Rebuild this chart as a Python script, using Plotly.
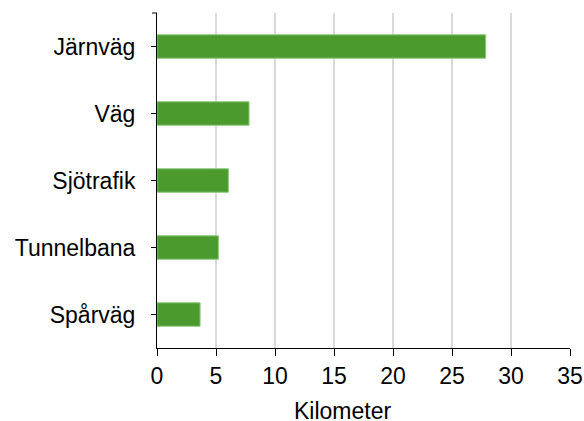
import plotly.graph_objects as go

categories = ["Järnväg", "Väg", "Sjötrafik", "Tunnelbana", "Spårväg"]
values = [27.85, 7.8, 6.05, 5.2, 3.65]
x_ticks = [0, 5, 10, 15, 20, 25, 30, 35]
x_title = "Kilometer"

fig = go.Figure(go.Bar(
    x=values, y=categories, orientation="h",
    width=0.35,
    marker=dict(color="#4a9a2e", line=dict(color="#8cc97a", width=1)),
))

FONT = "Liberation Sans, Arial, sans-serif"
fig.update_layout(
    width=584, height=421,
    margin=dict(l=157, r=14, t=13, b=73),
    plot_bgcolor="white", paper_bgcolor="white",
    showlegend=False,
    font=dict(family=FONT, size=23, color="black"),
    xaxis=dict(
        range=[0, 35], tickvals=x_ticks, ticktext=[str(t) for t in x_ticks],
        showgrid=True, gridcolor="#d9d9d9", gridwidth=1.5,
        showline=True, linecolor="black", linewidth=1,
        ticks="outside", ticklen=7, tickcolor="black",
        zeroline=False, tickfont=dict(size=23, family=FONT),
        automargin=False,
    ),
    yaxis=dict(
        categoryorder="array", categoryarray=categories[::-1],
        range=[-0.5, 4.5],
        showline=True, linecolor="black", linewidth=1,
        ticks="outside", ticklen=5, tickcolor="black",
        ticklabelstandoff=11,
        showgrid=False, tickfont=dict(size=23, family=FONT),
        automargin=False,
    ),
    annotations=[dict(
        text=x_title, xref="paper", yref="paper", x=0.448, y=0,
        yshift=-48, xanchor="center", yanchor="top", showarrow=False,
        font=dict(size=23, family=FONT),
    )],
)
fig.add_shape(type="line", xref="paper", yref="paper", xsizemode="pixel",
              xanchor=0, x0=-5, x1=0, y0=1, y1=1,
              line=dict(color="black", width=1))

fig.write_html(
    "out.html",
    config={"displayModeBar": False},
    post_script="document.body.style.margin='0';document.body.style.overflow='hidden';",
)
